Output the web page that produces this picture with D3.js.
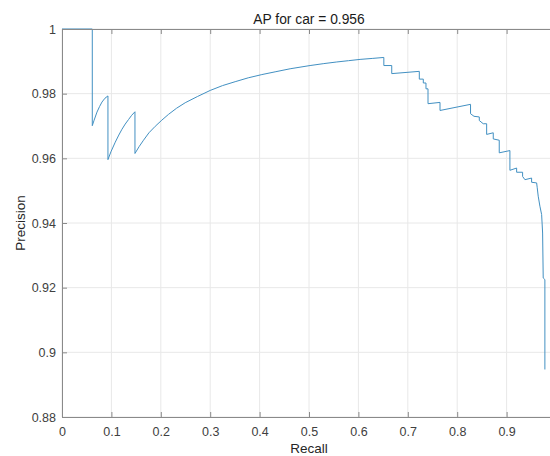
<!DOCTYPE html>
<html>
<head>
    <title>AP for car</title>
</head>
<body>
<style type="text/css">
    body {
        margin: 0;
        background: #fff;
    }

    #renderer {
        width: 550px;
        height: 456px;
        background: #FFF;
        display: block;
    }

    text {
        font-family: "Liberation Sans", Arial, Helvetica, sans-serif;
    }
</style>
<script type="text/javascript" src="https://cdnjs.cloudflare.com/ajax/libs/d3/7.8.5/d3.min.js"></script>
<svg id='renderer'></svg>

<script type="text/javascript">
    // values
    var recall = [0, 0.0613,
        0.0613, 0.0650, 0.0708, 0.0760, 0.0809, 0.0870, 0.0930,
        0.0930, 0.0990, 0.1078, 0.1150, 0.1214, 0.1280, 0.1347, 0.1410, 0.1477,
        0.1477, 0.1560, 0.1650, 0.1760, 0.1887, 0.2020, 0.2156, 0.2320, 0.2494, 0.2740,
        0.3000, 0.3250, 0.3505, 0.3770, 0.4045, 0.4330, 0.4618, 0.5022, 0.5300, 0.5562,
        0.5800, 0.6034, 0.6280, 0.6515,
        0.6515, 0.6675, 0.6675, 0.7233, 0.7233, 0.7314, 0.7314, 0.7368,
        0.7368, 0.7409, 0.7409, 0.7652, 0.7652, 0.8270, 0.8270, 0.8340, 0.8447, 0.8447,
        0.8527, 0.8596, 0.8596, 0.8730, 0.8730, 0.8851, 0.8851, 0.9067, 0.9067, 0.9203,
        0.9203, 0.9324, 0.9324, 0.9371, 0.9506, 0.9506, 0.9608, 0.9620, 0.9640, 0.9674,
        0.9709, 0.9729, 0.9741, 0.9775, 0.9775];
    var precision = [1, 1,
        0.9701, 0.9718, 0.9743, 0.9760, 0.9774, 0.9786, 0.9793,
        0.9596, 0.9620, 0.9650, 0.9672, 0.9690, 0.9706, 0.9720, 0.9733, 0.9744,
        0.9615, 0.9636, 0.9656, 0.9679, 0.9699, 0.9718, 0.9736, 0.9755, 0.9772, 0.9791,
        0.9810, 0.9825, 0.9837, 0.9849, 0.9859, 0.9868, 0.9877, 0.9887, 0.9893, 0.9898,
        0.9902, 0.9906, 0.9909, 0.9912,
        0.9887, 0.9887, 0.9862, 0.9869, 0.9845, 0.9845, 0.9833, 0.9833,
        0.9815, 0.9815, 0.9769, 0.9773, 0.9748, 0.9767, 0.9738, 0.9730, 0.9728, 0.9717,
        0.9707, 0.9707, 0.9674, 0.9679, 0.9660, 0.9656, 0.9617, 0.9624, 0.9563, 0.9570,
        0.9557, 0.9557, 0.9544, 0.9534, 0.9539, 0.9526, 0.9524, 0.9509, 0.9483, 0.9452,
        0.9426, 0.9369, 0.9230, 0.9225, 0.8947];

    var xTicks = [0, 0.1, 0.2, 0.3, 0.4, 0.5, 0.6, 0.7, 0.8, 0.9];
    var yTicks = [0.88, 0.9, 0.92, 0.94, 0.96, 0.98, 1];
    var titleText = 'AP for car = 0.956';

    var root = d3.select('#renderer');

    // plot box (right edge at recall 1 falls just outside the picture)
    var padLeft = 62, padRight = 556, padTop = 29, padBottom = 417;

    var x = d3.scaleLinear().domain([0, 1]).range([padLeft, padRight]);
    var y = d3.scaleLinear().domain([0.88, 1]).range([padBottom, padTop]);

    var fmt = function (d) { return String(+d.toFixed(2)); };

    // grid
    root.append('g').selectAll('line').data(xTicks).enter().append('line')
        .attr('x1', function (d) { return x(d); })
        .attr('x2', function (d) { return x(d); })
        .attr('y1', padTop).attr('y2', padBottom)
        .attr('stroke', '#e8e8e8');
    root.append('g').selectAll('line').data(yTicks).enter().append('line')
        .attr('x1', padLeft).attr('x2', padRight)
        .attr('y1', function (d) { return y(d); })
        .attr('y2', function (d) { return y(d); })
        .attr('stroke', '#e8e8e8');

    // curve
    var pts = recall.map(function (r, i) { return [r, precision[i]]; });
    root.append('path')
        .datum(pts)
        .attr('fill', 'none')
        .attr('stroke', '#4290c2')
        .attr('stroke-width', 1)
        .attr('d', d3.line().x(function (d) { return x(d[0]); }).y(function (d) { return y(d[1]); }));

    // axes, ticks pointing inward like MATLAB
    function styleAxis(g) {
        g.select('.domain').attr('stroke', '#8a8a8a');
        g.selectAll('.tick line').attr('stroke', '#8a8a8a');
        g.selectAll('.tick text').attr('fill', '#404040').attr('font-size', 12.5)
            .attr('font-family', '"Liberation Sans", Arial, sans-serif');
    }

    root.append('g')
        .attr('transform', 'translate(0,' + padBottom + ')')
        .call(d3.axisBottom(x).tickValues(xTicks).tickFormat(fmt).tickSizeInner(-5).tickSizeOuter(0).tickPadding(10))
        .call(styleAxis);

    root.append('g')
        .attr('transform', 'translate(0,' + padTop + ')')
        .call(d3.axisTop(x).tickValues(xTicks).tickFormat('').tickSizeInner(-5).tickSizeOuter(0))
        .call(styleAxis);

    root.append('g')
        .attr('transform', 'translate(' + padLeft + ',0)')
        .call(d3.axisLeft(y).tickValues(yTicks).tickFormat(fmt).tickSizeInner(-5).tickSizeOuter(0).tickPadding(6))
        .call(styleAxis);

    root.append('g')
        .attr('transform', 'translate(' + padRight + ',0)')
        .call(d3.axisRight(y).tickValues(yTicks).tickFormat('').tickSizeInner(-5).tickSizeOuter(0))
        .call(styleAxis);

    // labels
    root.append('text')
        .text(titleText)
        .attr('x', (padLeft + padRight) / 2)
        .attr('y', 24)
        .attr('font-size', 13.8)
        .attr('fill', '#1a1a1a')
        .attr('text-anchor', 'middle');

    root.append('text')
        .text('Recall')
        .attr('x', (padLeft + padRight) / 2)
        .attr('y', 453)
        .attr('font-size', 13.5)
        .attr('fill', '#262626')
        .attr('text-anchor', 'middle');

    root.append('text')
        .text('Precision')
        .attr('transform', 'translate(25,' + (padTop + padBottom) / 2 + ') rotate(-90)')
        .attr('font-size', 13.5)
        .attr('fill', '#262626')
        .attr('text-anchor', 'middle');
</script>
</body>
</html>
